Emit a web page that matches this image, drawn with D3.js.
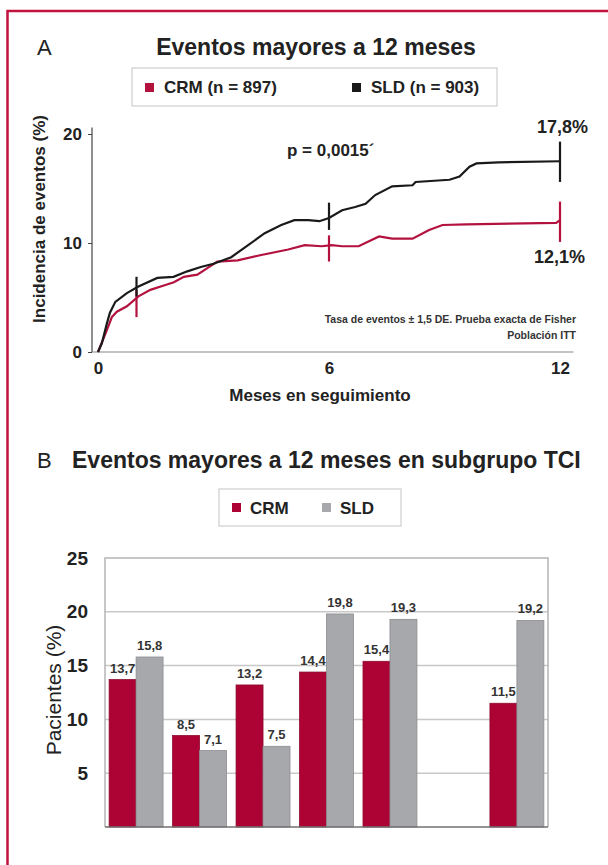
<!DOCTYPE html>
<html><head><meta charset="utf-8">
<script src="https://cdn.jsdelivr.net/npm/d3@7"></script>
<style>body{margin:0;background:#fff}svg{display:block;font-family:"Liberation Sans",Arial,sans-serif}</style>
</head><body><svg id="c" width="608" height="865"></svg>
<script>
// ---- Panel A data ----
const sldMonths=[0,0.1,0.23,0.31,0.45,0.75,1.05,1.54,1.96,2.32,2.67,3.0,3.46,3.9,4.33,4.76,5.1,5.46,5.75,6.0,6.34,6.68,6.95,7.2,7.64,8.17,8.25,9.13,9.39,9.65,9.83,10.4,12];
const sldValues=[0,0.8,2.6,3.6,4.6,5.4,6.0,6.8,6.9,7.4,7.8,8.1,8.7,9.8,10.9,11.65,12.1,12.1,12.0,12.3,13.0,13.3,13.6,14.4,15.2,15.3,15.6,15.8,16.1,17.0,17.3,17.4,17.5];
const crmMonths=[0,0.23,0.36,0.49,0.75,1.05,1.36,1.71,1.97,2.23,2.58,2.84,3.1,3.63,4.24,4.94,5.37,5.81,6.07,6.34,6.77,7.3,7.64,8.17,8.6,8.95,9.56,11.9,12];
const crmValues=[0,2.0,3.2,3.7,4.2,5.1,5.7,6.1,6.4,6.9,7.1,7.7,8.3,8.4,8.9,9.4,9.8,9.7,9.8,9.7,9.7,10.6,10.4,10.4,11.2,11.65,11.7,11.85,12.1];
const errMonths=[1,6,12];
const sldLow=[5.1,11.2,15.6], sldHigh=[6.9,13.7,19.3];
const crmLow=[3.2,8.3,10.1], crmHigh=[5.7,10.7,13.8];
const topYTicks=[0,10,20];
const topXTicks=[0,6,12];
// ---- Panel B data ----
const barCategories=["1","2","3","4","5","6","7"];
const barSeries=["CRM","SLD"];
const crmBars=[13.7,8.5,13.2,14.4,15.4,null,11.5];
const sldBars=[15.8,7.1,7.5,19.8,19.3,null,19.2];
const barYTicks=[5,10,15,20,25];

const RED="#b3123f", BLACK="#1a1a1a", BARRED="#ad0234", BARGRAY="#a6a8ab", TXT="#222";
const fmt=v=>d3.format(".1f")(v).replace(".",",");
const svg=d3.select("#c");

// frame
svg.append("rect").attr("x",7.5).attr("y",11).attr("width",700).attr("height",900)
  .attr("fill","none").attr("stroke","#c1123f").attr("stroke-width",2.5);

// ===== Panel A =====
svg.append("text").attr("x",37).attr("y",55).attr("font-size",22).attr("fill",TXT).text("A");
svg.append("text").attr("x",316).attr("y",55).attr("text-anchor","middle").attr("font-size",23)
  .attr("font-weight","bold").attr("fill",TXT).text("Eventos mayores a 12 meses");
// legend A
svg.append("rect").attr("x",132).attr("y",68).attr("width",365).attr("height",38)
  .attr("fill","#fff").attr("stroke","#c4c4c4");
[[145,RED,"CRM (n = 897)"],[352,BLACK,"SLD (n = 903)"]].forEach(([lx,c,t])=>{
  svg.append("rect").attr("x",lx).attr("y",83).attr("width",9).attr("height",9).attr("fill",c);
  svg.append("text").attr("x",lx+19).attr("y",93).attr("font-size",17).attr("font-weight","bold").attr("fill",TXT).text(t);
});

const x=d3.scaleLinear([0,12],[98,560]);
const y=d3.scaleLinear([0,20],[352,134]);

const yAx=svg.append("g").attr("transform","translate(92,0)")
  .call(d3.axisLeft(y).tickValues(topYTicks).tickSize(4).tickPadding(6).tickSizeOuter(0));
yAx.select(".domain").attr("d",`M0,${y(0)}V${y(20.6)}`).attr("stroke","#444").attr("stroke-width",1.2);
yAx.selectAll(".tick line").attr("stroke","#444");
yAx.selectAll("text").attr("font-size",17).attr("font-weight","bold").attr("fill",TXT).attr("font-family","Liberation Sans, Arial");

const xAx=svg.append("g").attr("transform",`translate(0,${y(0)})`)
  .call(d3.axisBottom(x).tickValues(topXTicks).tickSize(0).tickPadding(10));
xAx.select(".domain").attr("d",`M92,0H${x(12.35)}`).attr("stroke","#888").attr("stroke-width",1.2);
xAx.selectAll("text").attr("font-size",17).attr("font-weight","bold").attr("fill",TXT).attr("font-family","Liberation Sans, Arial");

svg.append("text").attr("x",320).attr("y",401).attr("text-anchor","middle").attr("font-size",17)
  .attr("font-weight","bold").attr("fill",TXT).text("Meses en seguimiento");
svg.append("text").attr("transform","translate(45,219) rotate(-90)").attr("text-anchor","middle")
  .attr("font-size",17).attr("font-weight","bold").attr("fill",TXT).text("Incidencia de eventos  (%)");

const line=d3.line().x(d=>x(d[0])).y(d=>y(d[1]));
svg.append("path").datum(crmMonths.map((m,i)=>[m,crmValues[i]])).attr("d",line)
  .attr("fill","none").attr("stroke",RED).attr("stroke-width",2.2);
svg.append("path").datum(sldMonths.map((m,i)=>[m,sldValues[i]])).attr("d",line)
  .attr("fill","none").attr("stroke",BLACK).attr("stroke-width",2.2);
errMonths.forEach((m,i)=>{
  svg.append("line").attr("x1",x(m)).attr("x2",x(m)).attr("y1",y(crmLow[i])).attr("y2",y(crmHigh[i]))
    .attr("stroke",RED).attr("stroke-width",2.2);
  svg.append("line").attr("x1",x(m)).attr("x2",x(m)).attr("y1",y(sldLow[i])).attr("y2",y(sldHigh[i]))
    .attr("stroke",BLACK).attr("stroke-width",2.2);
});
svg.append("text").attr("x",287).attr("y",156).attr("font-size",17).attr("font-weight","bold").attr("fill",TXT).text("p = 0,0015´");
svg.append("text").attr("x",588).attr("y",133).attr("text-anchor","end").attr("font-size",18).attr("font-weight","bold").attr("fill",TXT).text("17,8%");
svg.append("text").attr("x",585).attr("y",263).attr("text-anchor","end").attr("font-size",18).attr("font-weight","bold").attr("fill",TXT).text("12,1%");
svg.append("text").attr("x",576).attr("y",323).attr("text-anchor","end").attr("font-size",10.5).attr("font-weight","bold").attr("fill","#333").text("Tasa de eventos ± 1,5 DE. Prueba exacta de Fisher");
svg.append("text").attr("x",576).attr("y",339).attr("text-anchor","end").attr("font-size",10.5).attr("font-weight","bold").attr("fill","#333").text("Población ITT");

// ===== Panel B =====
svg.append("text").attr("x",37).attr("y",468).attr("font-size",22).attr("fill",TXT).text("B");
svg.append("text").attr("x",72).attr("y",468).attr("font-size",23).attr("font-weight","bold").attr("fill",TXT).text("Eventos mayores a 12 meses en subgrupo TCI");
svg.append("rect").attr("x",219).attr("y",489).attr("width",182).attr("height",37).attr("fill","#fff").attr("stroke","#c4c4c4");
[[232,BARRED,"CRM"],[322,BARGRAY,"SLD"]].forEach(([lx,c,t])=>{
  svg.append("rect").attr("x",lx).attr("y",503).attr("width",9).attr("height",9).attr("fill",c);
  svg.append("text").attr("x",lx+18).attr("y",514).attr("font-size",17).attr("font-weight","bold").attr("fill",TXT).text(t);
});

const xb=d3.scaleBand(barCategories,[105,548]).paddingInner(0.15).paddingOuter(0.065);
const xs=d3.scaleBand(barSeries,[0,xb.bandwidth()]);
const yb=d3.scaleLinear([0,25],[827,558]);

// grid
svg.append("g").selectAll("line").data(barYTicks.slice(0,-1)).join("line")
  .attr("x1",105).attr("x2",548).attr("y1",d=>yb(d)).attr("y2",d=>yb(d)).attr("stroke","#c8c8c8").attr("stroke-width",1.5);
// box
svg.append("path").attr("d",`M105,${yb(0)}V${yb(25)}H548V${yb(0)}`).attr("fill","none").attr("stroke","#b4b4b4").attr("stroke-width",1.5);

const yBAx=svg.append("g").attr("transform","translate(88,0)")
  .call(d3.axisLeft(yb).tickValues(barYTicks).tickSize(0).tickPadding(0));
yBAx.select(".domain").remove();
yBAx.selectAll("text").attr("font-size",19).attr("font-weight","bold").attr("fill",TXT).attr("font-family","Liberation Sans, Arial");

svg.append("text").attr("transform","translate(61,690) rotate(-90)").attr("text-anchor","middle")
  .attr("font-size",21).attr("fill",TXT).text("Pacientes (%)");

const rows=barCategories.map((c,i)=>({c,vals:[{s:"CRM",v:crmBars[i]},{s:"SLD",v:sldBars[i]}].filter(d=>d.v!=null)}));
const g=svg.append("g").selectAll("g").data(rows).join("g").attr("transform",d=>`translate(${xb(d.c)},0)`);
g.selectAll("rect").data(d=>d.vals).join("rect")
  .attr("x",d=>xs(d.s)).attr("width",xs.bandwidth()).attr("y",d=>yb(d.v)).attr("height",d=>yb(0)-yb(d.v))
  .attr("fill",d=>d.s==="CRM"?BARRED:BARGRAY).attr("stroke",d=>d.s==="CRM"?"#8e0a2e":"#8c8d90").attr("stroke-width",0.8);
g.selectAll("text").data(d=>d.vals).join("text")
  .attr("x",d=>xs(d.s)+xs.bandwidth()/2).attr("y",d=>yb(d.v)-7).attr("text-anchor","middle")
  .attr("font-size",13).attr("font-weight","bold").attr("fill","#333").text(d=>fmt(d.v));

svg.append("line").attr("x1",105).attr("x2",548).attr("y1",yb(0)).attr("y2",yb(0)).attr("stroke","#707070").attr("stroke-width",1.5);
</script></body></html>
